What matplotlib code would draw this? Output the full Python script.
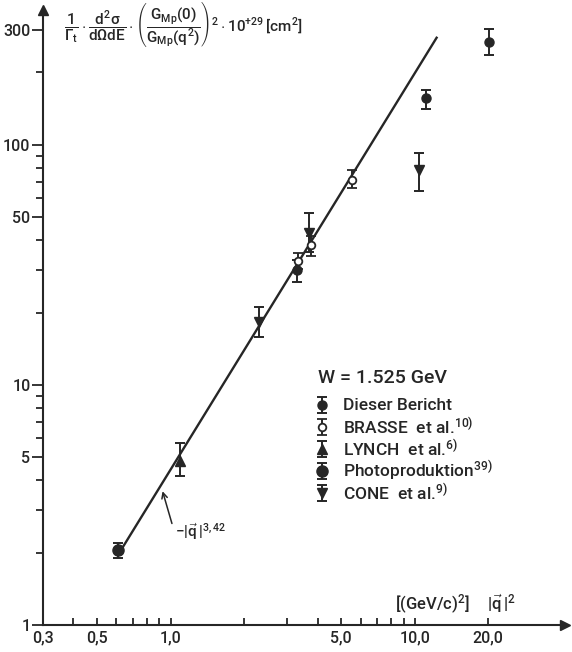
import matplotlib
matplotlib.use('Agg')
import matplotlib.pyplot as plt
from matplotlib.ticker import NullFormatter

plt.rcParams['font.family'] = ['Roboto', 'DejaVu Sans']
plt.rcParams['font.weight'] = 'medium'
plt.rcParams['mathtext.fontset'] = 'custom'
plt.rcParams['mathtext.rm'] = 'Roboto:medium'
plt.rcParams['mathtext.it'] = 'Roboto:medium'
plt.rcParams['mathtext.bf'] = 'Roboto:bold'

INK = '#262626'

# |q|^2 in (GeV/c)^2, cross section in 1e-29 cm^2, errors as (lower, upper) limits
dieser_x = [3.30, 11.1, 20.2]
dieser_y = [30.1, 157.0, 269.0]
dieser_lo = [26.8, 141.0, 237.0]
dieser_hi = [33.2, 169.0, 304.0]

brasse_x = [3.33, 3.77, 5.54]
brasse_y = [32.9, 38.3, 71.5]
brasse_lo = [30.5, 34.5, 66.2]
brasse_hi = [35.5, 41.5, 78.7]

lynch_x = [1.09]
lynch_y = [4.82]
lynch_lo = [4.18]
lynch_hi = [5.73]

photo_x = [0.61]
photo_y = [2.05]
photo_lo = [1.90]
photo_hi = [2.20]

cone_x = [2.30, 3.69, 10.4]
cone_y = [18.3, 43.0, 78.7]
cone_lo = [15.8, 35.8, 64.3]
cone_hi = [21.1, 52.1, 92.6]

# fitted power law, drawn between its two end points
fit_x = [0.626, 12.3]
fit_y = [2.05, 279.0]

x_major = [0.3, 0.5, 1.0, 5.0, 10.0, 20.0]
x_labels = ['0,3', '0,5', '1,0', '5,0', '10,0', '20,0']
x_minor = [0.4, 0.6, 0.7, 0.8, 0.9, 2, 3, 4, 6, 7, 8, 9]
y_major = [1, 5, 10, 50, 100, 300]
y_labels = ['1', '5', '10', '50', '100', '300']
y_minor = [2, 3, 4, 6, 7, 8, 9, 20, 30, 40, 60, 70, 80, 90, 200]

legend_title = 'W = 1.525 GeV'
legend_labels = ['Dieser Bericht', r'BRASSE  et al.$^{10)}$', r'LYNCH  et al.$^{6)}$',
                 r'Photoproduktion$^{39)}$', r'CONE  et al.$^{9)}$']

W, H = 572, 652


def errs(y, lo, hi):
    return [[a - b for a, b in zip(y, lo)], [c - a for a, c in zip(y, hi)]]


fig = plt.figure(figsize=(W / 100, H / 100), dpi=100)
ax = fig.add_axes([43 / W, 27 / H, 522 / W, 615 / H])
ax.set_xscale('log')
ax.set_yscale('log')
ax.set_xlim(0.3, 41.3)
ax.set_ylim(1, 364)

ax.plot(fit_x, fit_y, color=INK, lw=1.7, zorder=2)

kw = dict(ls='none', color=INK, ecolor=INK, elinewidth=1.4, capsize=3.5,
          capthick=1.4, zorder=3)
styles = [dict(fmt='o', ms=6.5),
          dict(fmt='o', ms=5.5, mfc='white', mew=1.3),
          dict(fmt='^', ms=7.5),
          dict(fmt='o', ms=8),
          dict(fmt='v', ms=7.5)]
series = [(dieser_x, dieser_y, dieser_lo, dieser_hi),
          (brasse_x, brasse_y, brasse_lo, brasse_hi),
          (lynch_x, lynch_y, lynch_lo, lynch_hi),
          (photo_x, photo_y, photo_lo, photo_hi),
          (cone_x, cone_y, cone_lo, cone_hi)]
for (sx, sy, lo, hi), st in zip(series, styles):
    ax.errorbar(sx, sy, yerr=errs(sy, lo, hi), **st, **kw)

for side in ['top', 'right']:
    ax.spines[side].set_visible(False)
for side in ['left', 'bottom']:
    ax.spines[side].set_linewidth(1.5)
    ax.spines[side].set_color(INK)
ax.plot([1], [0], marker='>', ms=7, color=INK, transform=ax.transAxes, clip_on=False)
ax.plot([0], [1], marker='^', ms=7, color=INK, transform=ax.transAxes, clip_on=False)

ax.set_xticks(x_major, x_labels)
ax.set_xticks(x_minor, minor=True)
ax.set_yticks(y_major, y_labels)
ax.set_yticks(y_minor, minor=True)
ax.xaxis.set_minor_formatter(NullFormatter())
ax.yaxis.set_minor_formatter(NullFormatter())
ax.tick_params(axis='x', which='both', direction='in', length=5, width=1.3,
               colors=INK, labelsize=11.5, pad=4)
ax.tick_params(axis='y', which='major', direction='out', length=8, width=1.3,
               colors=INK, labelsize=11.5, pad=1)
ax.tick_params(axis='y', which='minor', direction='out', length=5, width=1.3,
               colors=INK)

ax.annotate('', xy=(0.92, 3.7), xytext=(1.02, 2.58),
            arrowprops=dict(arrowstyle='->', color=INK, lw=1.1))
ax.text(1.04, 2.45, r'$-|\vec{q}\,|^{3,42}$', ha='left', va='center',
        fontsize=11, color=INK)

# overlay in pixel units for the header, axis title and key
ov = fig.add_axes([0, 0, 1, 1], zorder=5)
ov.set_xlim(0, W)
ov.set_ylim(H, 0)
ov.axis('off')

ov.text(64, 24,
        r'$\dfrac{1}{\Gamma_t}\cdot\dfrac{d^2\sigma}{d\Omega dE}\cdot'
        r'\left(\dfrac{G_{Mp}(0)}{G_{Mp}(q^2)}\right)^2\cdot 10^{+29}\,[\mathrm{cm}^2]$',
        ha='left', va='center', fontsize=11, color=INK)
ov.text(395, 604, r'$[(\mathrm{GeV}/c)^2]$', ha='left', va='center',
        fontsize=12, color=INK)
ov.text(487, 604, r'$|\vec{q}\,|^2$', ha='left', va='center',
        fontsize=12, color=INK)

ov.text(318, 378, legend_title, ha='left', va='center', fontsize=14, color=INK)
for i, (label, st) in enumerate(zip(legend_labels, styles)):
    yc = 405 + 22 * i
    ov.errorbar([322], [yc], yerr=8, **st, **kw)
    ov.text(343, yc, label, ha='left', va='center', fontsize=12.5, color=INK)

fig.savefig('out.png', dpi=100, facecolor='white')
